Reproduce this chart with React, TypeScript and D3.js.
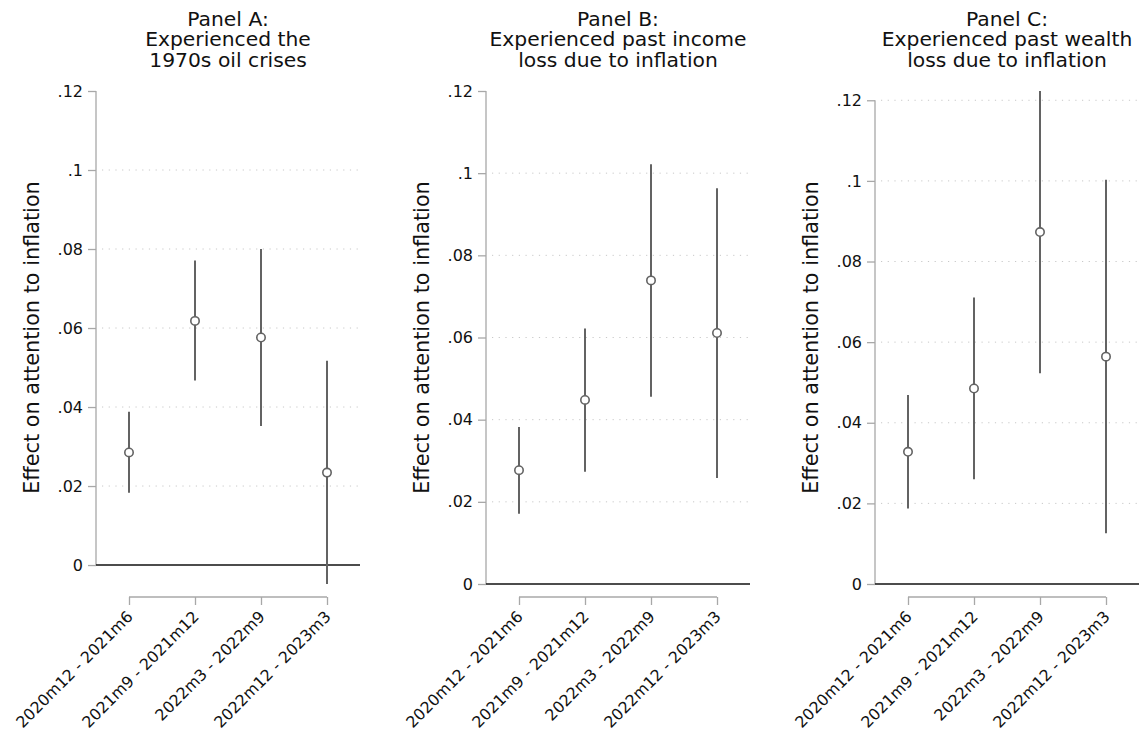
import { useEffect, useRef } from "react";
import * as d3 from "d3";

const categories = [
  "2020m12 - 2021m6",
  "2021m9 - 2021m12",
  "2022m3 - 2022m9",
  "2022m12 - 2023m3",
];

const panelTitles = [
  ["Panel A:", "Experienced the", "1970s oil crises"],
  ["Panel B:", "Experienced past income", "loss due to inflation"],
  ["Panel C:", "Experienced past wealth", "loss due to inflation"],
];

// point estimates and 95% bounds per panel
const estA = [0.0285, 0.0618, 0.0576, 0.0234];
const loA = [0.0183, 0.0467, 0.0352, -0.0048];
const hiA = [0.0388, 0.0771, 0.08, 0.0517];

const estB = [0.0277, 0.0448, 0.0739, 0.0611];
const loB = [0.0171, 0.0273, 0.0456, 0.0258];
const hiB = [0.0382, 0.0622, 0.1022, 0.0963];

const estC = [0.0328, 0.0485, 0.0873, 0.0564];
const loC = [0.0187, 0.026, 0.0523, 0.0126];
const hiC = [0.0469, 0.0711, 0.1223, 0.1003];

const yTicks = [0, 0.02, 0.04, 0.06, 0.08, 0.1, 0.12];
const yLabel = "Effect on attention to inflation";

const panels = [
  { est: estA, lo: loA, hi: hiA },
  { est: estB, lo: loB, hi: hiB },
  { est: estC, lo: loC, hi: hiC },
];

export default function App() {
  const ref = useRef<SVGSVGElement>(null);

  useEffect(() => {
    const width = 1142;
    const height = 734;
    const font = "DejaVu Sans, Verdana, sans-serif";
    const lefts = [96, 486, 875];
    const plotW = 264;
    const top = 91;
    const bottom = 584;
    const xAxisY = 597;
    const tickLen = 8;
    const axisColor = "#a8a8a8";
    const markColor = "#636363";

    const svg = d3.select(ref.current);
    svg.selectAll("*").remove();
    svg.attr("width", width).attr("height", height);

    const fmt = (d: number) => (d === 0 ? "0" : String(d).replace(/^0/, ""));

    panels.forEach((p, i) => {
      const left = lefts[i];
      const g = svg.append("g");

      const yMin = Math.min(0, d3.min(p.lo) as number);
      const yMax = Math.max(0.12, d3.max(p.hi) as number);
      const y = d3.scaleLinear().domain([yMin, yMax]).range([bottom, top]);
      const x = d3
        .scalePoint()
        .domain(categories)
        .range([left, left + plotW])
        .padding(0.5);

      // title
      const title = g
        .append("text")
        .attr("font-family", font)
        .attr("font-size", 20.3)
        .attr("fill", "#111")
        .attr("text-anchor", "middle");
      panelTitles[i].forEach((line, k) => {
        title
          .append("tspan")
          .attr("x", left + plotW / 2)
          .attr("y", 26 + k * 20.4)
          .text(line);
      });

      // gridlines (not at plot edges, not at zero)
      g.append("g")
        .selectAll("line")
        .data(yTicks.filter((t) => t !== 0 && Math.abs(y(t) - top) > 1))
        .join("line")
        .attr("x1", left + 6)
        .attr("x2", left + plotW)
        .attr("y1", (d) => y(d))
        .attr("y2", (d) => y(d))
        .attr("stroke", "#c8c8c8")
        .attr("stroke-width", 1)
        .attr("stroke-dasharray", "1.2 5.5");

      // y axis
      const yAxis = g
        .append("g")
        .attr("transform", `translate(${left},0)`)
        .call(
          d3
            .axisLeft(y)
            .tickValues(yTicks)
            .tickFormat((d) => fmt(d as number))
            .tickSize(tickLen)
            .tickPadding(5),
        );
      yAxis.select(".domain").attr("d", `M0,${y(0)}V${y(0.12)}`);
      yAxis.selectAll("path,line").attr("stroke", axisColor).attr("stroke-width", 1.3);
      yAxis
        .selectAll("text")
        .attr("font-family", font)
        .attr("font-size", 16)
        .attr("fill", "#111");

      // zero line
      g.append("line")
        .attr("x1", left)
        .attr("x2", left + plotW)
        .attr("y1", y(0))
        .attr("y2", y(0))
        .attr("stroke", "#111")
        .attr("stroke-width", 1.6);

      // y label
      g.append("text")
        .attr("transform", `translate(${left - 64},${(top + bottom) / 2}) rotate(-90)`)
        .attr("text-anchor", "middle")
        .attr("dominant-baseline", "central")
        .attr("font-family", font)
        .attr("font-size", 20.8)
        .attr("fill", "#111")
        .text(yLabel);

      // x axis
      const xAxis = g
        .append("g")
        .attr("transform", `translate(0,${xAxisY})`)
        .call(d3.axisBottom(x).tickSize(tickLen).tickSizeOuter(0));
      xAxis
        .select(".domain")
        .attr("d", `M${x(categories[0])},0H${x(categories[categories.length - 1])}`);
      xAxis.selectAll("path,line").attr("stroke", axisColor).attr("stroke-width", 1.3);
      xAxis
        .selectAll("text")
        .attr("font-family", font)
        .attr("font-size", 15.8)
        .attr("fill", "#111")
        .attr("text-anchor", "end")
        .attr("dy", null)
        .attr("x", -6)
        .attr("y", 12)
        .attr("transform", `translate(0,${tickLen}) rotate(-45)`);

      // error bars
      g.append("g")
        .selectAll("line")
        .data(categories)
        .join("line")
        .attr("x1", (d) => x(d) as number)
        .attr("x2", (d) => x(d) as number)
        .attr("y1", (_, k) => y(p.lo[k]))
        .attr("y2", (_, k) => y(p.hi[k]))
        .attr("stroke", markColor)
        .attr("stroke-width", 2);

      // point estimates
      g.append("g")
        .selectAll("circle")
        .data(categories)
        .join("circle")
        .attr("cx", (d) => x(d) as number)
        .attr("cy", (_, k) => y(p.est[k]))
        .attr("r", 4.2)
        .attr("fill", "white")
        .attr("stroke", markColor)
        .attr("stroke-width", 1.6);
    });
  }, []);

  return (
    <div style={{ position: "absolute", left: 0, top: 0 }}>
      <svg ref={ref} style={{ display: "block", background: "white" }} />
    </div>
  );
}
